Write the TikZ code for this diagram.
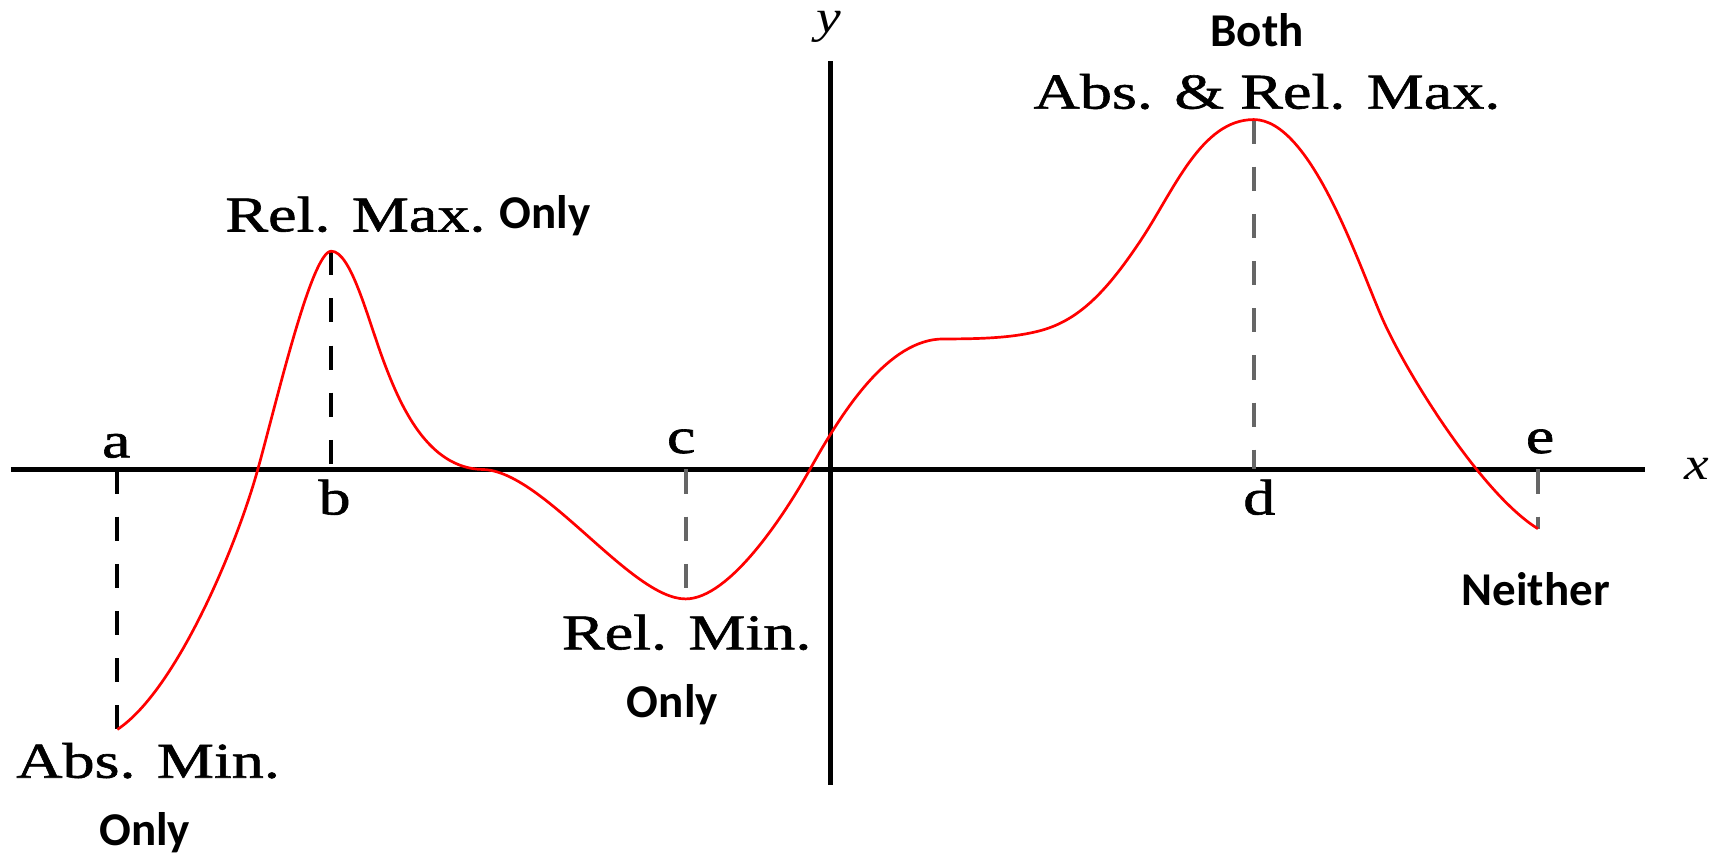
\documentclass[tikz,border=0pt]{standalone}
\usepackage{fontspec}
\newfontfamily\wserif[FakeStretch=1.28, FakeBold=1.2]{Liberation Serif}
\newfontfamily\iserif[FakeStretch=1.2]{Liberation Serif}
\newfontfamily\lblsans{Carlito}
\begin{document}
\begin{tikzpicture}[x=0.1mm, y=-0.1mm,
  axisline/.style={line width=1.1pt},
  curveline/.style={red, line width=0.7pt},
  guide/.style={line width=1pt, dash pattern=on 2.2mm off 2.1mm},
  serif/.style={font=\wserif\fontsize{13}{15}\selectfont, inner sep=0pt, anchor=base},
  bsans/.style={font=\lblsans\bfseries\fontsize{12.2}{14}\selectfont, inner sep=0pt, anchor=base},
  axlbl/.style={font=\iserif\itshape\fontsize{12}{14}\selectfont, inner sep=0pt, anchor=base}]
\useasboundingbox (0,0) rectangle (1568,779);

% axes
\coordinate (xl) at (10,428);
\coordinate (xr) at (1500,428);
\coordinate (yt) at (757,56);
\coordinate (yb) at (757,716);
\draw[axisline] (xl) -- (xr);
\draw[axisline] (yt) -- (yb);
\node[axlbl] (xlab) at (1547,437) {x};
\node[axlbl] (ylab) at (756,30) {y};

% key points
\coordinate (pa) at (107,665);
\coordinate (pb) at (302,229);
\coordinate (pc) at (625,546);
\coordinate (pd) at (1143,109);
\coordinate (pe) at (1402,482);
\coordinate (a0) at (107,428);
\coordinate (b0) at (302,428);
\coordinate (c0) at (625,428);
\coordinate (d0) at (1143,428);
\coordinate (e0) at (1402,428);

% dashed guides
\draw[guide] (a0) -- (pa);
\draw[guide] (pb) -- (b0);
\draw[guide, black!60] (c0) -- (pc);
\draw[guide, black!60] (pd) -- (d0);
\draw[guide, black!60] (e0) -- (pe);

% curve
\draw[curveline] (pa) .. controls (160,630) and (215,500) .. (235,428)
  .. controls (252,367) and (284,229) .. (pb)
  .. controls (320,229) and (335,290) .. (350,330)
  .. controls (365,370) and (390,427) .. (440,428)
  .. controls (495,429) and (575,546) .. (pc)
  .. controls (665,546) and (715,470) .. (740,425)
  .. controls (768,375) and (810,309) .. (860,309)
  .. controls (895,309) and (925,308) .. (950,301)
  .. controls (985,291) and (1010,264) .. (1040,219)
  .. controls (1070,174) and (1095,109) .. (pd)
  .. controls (1195,109) and (1238,240) .. (1260,290)
  .. controls (1281,338) and (1350,450) .. (pe);

% tick letters
\node[serif] (la) at (106,417) {a};
\node[serif] (lb) at (305,469) {b};
\node[serif] (lc) at (621,413) {c};
\node[serif] (ld) at (1148,469) {d};
\node[serif] (le) at (1404,413) {e};

% annotations
\node[serif] (relmax) at (324,211) {Rel. Max.};
\node[bsans] (relmaxonly) at (497,208) {Only};
\node[bsans] (both) at (1146,42) {Both};
\node[serif] (absrelmax) at (1155,99) {Abs. \& Rel. Max.};
\node[serif] (relmin) at (626,592) {Rel. Min.};
\node[bsans] (relminonly) at (613,654) {Only};
\node[serif] (absmin) at (135,709) {Abs. Min.};
\node[bsans] (absminonly) at (132,771) {Only};
\node[bsans] (neither) at (1400,552) {Neither};
\end{tikzpicture}
\end{document}
